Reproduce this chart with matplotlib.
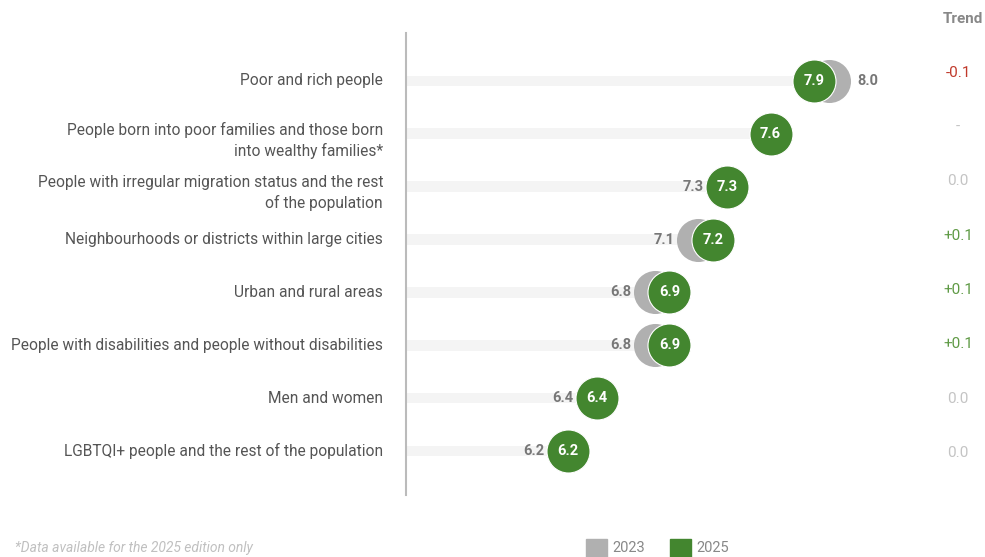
import matplotlib.pyplot as plt
import matplotlib.transforms as mtransforms

plt.rcParams['font.family'] = ['Roboto', 'DejaVu Sans']

categories = [
    "Poor and rich people",
    "People born into poor families and those born\ninto wealthy families*",
    "People with irregular migration status and the rest\nof the population",
    "Neighbourhoods or districts within large cities",
    "Urban and rural areas",
    "People with disabilities and people without disabilities",
    "Men and women",
    "LGBTQI+ people and the rest of the population",
]
score_2023 = [8.0, None, 7.3, 7.1, 6.8, 6.8, 6.4, 6.2]
score_2025 = [7.9, 7.6, 7.3, 7.2, 6.9, 6.9, 6.4, 6.2]
trend = ["-0.1", "-", "0.0", "+0.1", "+0.1", "+0.1", "0.0", "0.0"]

GREEN = "#43862f"
GREY = "#b0b0b0"
trend_colors = {"-0.1": "#c0392b", "+0.1": "#5f9a45", "0.0": "#c4c4c4", "-": "#c4c4c4"}

W, H = 985, 557
fig = plt.figure(figsize=(W / 100, H / 100), dpi=100)
ax = fig.add_axes([406 / W, 62 / H, (W - 406) / W, 462 / H])
x0 = 5.08
ax.set_xlim(x0, x0 + 579 / 144.7)
ax.set_ylim(7 + 44 / 53, -48 / 53)
ax.axis("off")

rows = list(range(len(categories)))
S = 960  # marker area in pt^2, ~43 px diameter
rad = 21.5 / 144.7  # radius in data units

# background track behind each dot
ax.barh(rows, [v - x0 for v in score_2025], left=x0, height=0.2,
        color="#f4f4f4", zorder=1)

for i in rows:
    old, new = score_2023[i], score_2025[i]
    if old is not None:
        ax.scatter(old, i, s=S, color=GREY, zorder=2, linewidths=0)
        if old > new:
            ax.text(old + rad + 0.05, i, f"{old:.1f}", ha="left", va="center",
                    fontsize=10.5, fontweight="bold", color="#777777")
        else:
            lx = min(old, new) - rad - 0.015
            ax.text(lx, i, f"{old:.1f}", ha="right", va="center",
                    fontsize=10.5, fontweight="bold", color="#777777")
    ax.scatter(new, i, s=S, color=GREEN, zorder=3, edgecolors="white",
               linewidths=0.8)
    ax.text(new, i, f"{new:.1f}", ha="center", va="center", fontsize=10.5,
            fontweight="bold", color="white", zorder=4)

# category labels to the left of the axis line
lab = mtransforms.blended_transform_factory(fig.transFigure, ax.transData)
for i, c in enumerate(categories):
    dy = 0.12 if "\n" in c else 0
    ax.text(383 / W, i + dy, c, transform=lab, ha="right", va="center",
            fontsize=11.2, color="#555555", linespacing=1.4)

# trend column
for i, t in enumerate(trend):
    dy = (-8 + 1.4 * i) / 53
    ax.text(958 / W, i + dy, t, transform=lab, ha="center", va="center",
            fontsize=11, color=trend_colors[t])
fig.text(963 / W, 1 - 19 / H, "Trend", ha="center", va="center",
         fontsize=11, fontweight="bold", color="#888888")

# axis line
fig.add_artist(plt.Line2D([406 / W, 406 / W], [1 - 33 / H, 1 - 495 / H],
                          color="#bbbbbb", lw=1.5))

# legend
for xs, col, yr in [(586, GREY, "2023"), (670, GREEN, "2025")]:
    fig.add_artist(plt.Rectangle((xs / W, 0), 21 / W, 18 / H,
                                 color=col, transform=fig.transFigure))
    fig.text((xs + 26) / W, 1 - 548 / H, yr, ha="left", va="center",
             fontsize=10.5, color="#888888")

fig.text(15 / W, 1 - 548 / H, "*Data available for the 2025 edition only",
         ha="left", va="center", fontsize=10, style="italic", color="#c0c0c0")

fig.savefig("out.png", dpi=100)
